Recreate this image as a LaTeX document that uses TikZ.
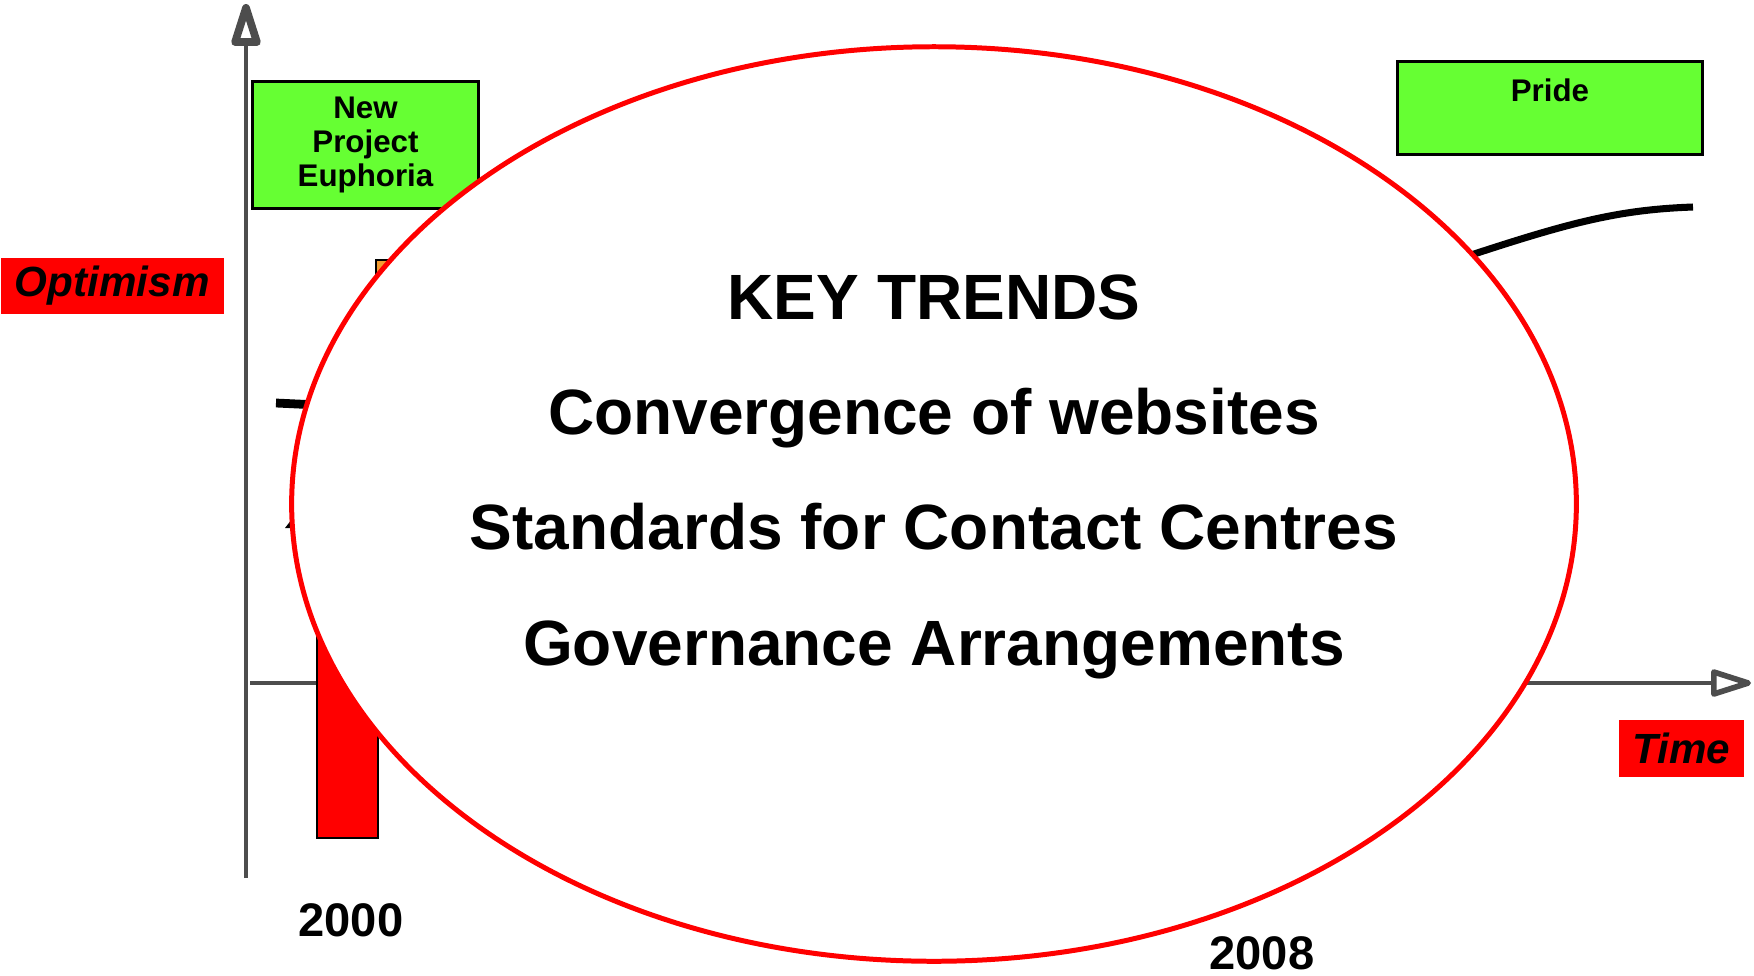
\documentclass[tikz,border=0pt]{standalone}
\usepackage{fontspec}
\setmainfont{Liberation Sans}
\usetikzlibrary{arrows.meta, shapes.geometric}

\definecolor{boxgreen}{HTML}{66FF33}
\definecolor{axisgray}{HTML}{4D4D4D}
\definecolor{barorange}{HTML}{F39C32}

\begin{document}
\begin{tikzpicture}[x = 0.01cm, y = -0.01cm,
    axis/.style = { draw = axisgray, line width = 1.4pt },
    greenbox/.style = { draw, fill = boxgreen, line width = 0.8pt, align = center,
      inner sep = 0pt, font = \fontsize{8.9}{9.7}\selectfont\bfseries },
    redtag/.style = { fill = red, inner sep = 0pt,
      font = \fontsize{12}{14}\selectfont\bfseries\itshape },
    trend/.style = { anchor = base, font = \fontsize{18.2}{22}\selectfont\bfseries },
    year/.style = { anchor = base, font = \fontsize{13.4}{16}\selectfont\bfseries } ]
      \useasboundingbox (0,0) rectangle (1754,975);

      % axes
      \coordinate (origin) at (246,878);
      \coordinate (top) at (246,4);
      \coordinate (xstart) at (250,683);
      \coordinate (xend) at (1751,683);
      \draw [axis, -{Triangle[open, length = 0.52cm, width = 0.3cm, round, line width = 2.2pt]}]
        (origin) -- (top);
      \draw [axis, -{Triangle[open, length = 0.47cm, width = 0.28cm, round, line width = 1.6pt]}]
        (xstart) -- (xend);

      % bits of the chart behind the ring
      \draw [fill = red, line width = 0.8pt] (317,560) rectangle (378,838);
      \draw [fill = barorange, line width = 0.8pt] (376,260) rectangle (430,330);
      \draw [line width = 2.5pt] (276,403) -- (340,406);
      \fill (285,528) -- (292,519) -- (292,528) -- cycle;
      \draw [line width = 2pt] (1420,272) .. controls (1560,225) and (1610,210) .. (1693,207);

      % labels
      \node [greenbox, anchor = north west, minimum width = 2.26cm, minimum height = 1.27cm]
        (euphoria) at (251,80) { New \\ Project \\ Euphoria };
      \node [greenbox, anchor = north west, minimum width = 3.05cm, minimum height = 0.93cm,
        label = {[anchor = north, inner sep = 0pt, yshift = -0.18cm,
          font = \fontsize{8.9}{9.7}\selectfont\bfseries] north:Pride}]
        (pride) at (1396,60) {};
      \node [redtag, anchor = north west, minimum width = 2.23cm, minimum height = 0.56cm]
        (optimism) at (0,257) { Optimism };
      \node [redtag, anchor = north west, minimum width = 1.25cm, minimum height = 0.57cm]
        (time) at (1618,719) { Time };
      \node [year] (start) at (351,936) { 2000 };
      \node [year] (finish) at (1262,969) { 2008 };

      % the ring
      \node [draw = red, fill = white, line width = 1.42pt, ellipse, inner sep = 0pt,
        minimum width = 12.84cm, minimum height = 9.14cm] (trends) at (934,504) {};
      \node [trend] (keytrends) at (934,319) { KEY TRENDS };
      \node [trend] (websites) at (934,434) { Convergence of websites };
      \node [trend] (standards) at (934,549) { Standards for Contact Centres };
      \node [trend] (governance) at (934,665) { Governance Arrangements };
    \end{tikzpicture}
\end{document}
